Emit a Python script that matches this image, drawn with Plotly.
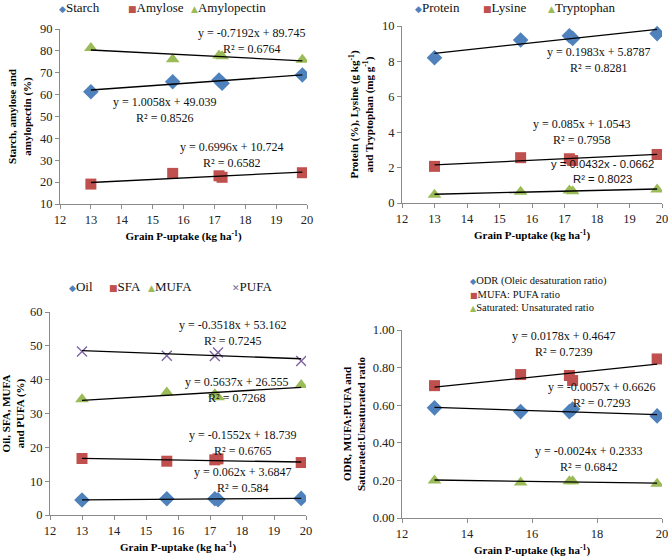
import plotly.graph_objects as go

W, H = 668, 559

# ---------------- data ----------------
x_uptake = [13.0, 15.65, 17.15, 17.25, 19.85]

starch = [61.3, 65.9, 66.7, 65.2, 69.0]
amylose = [19.1, 24.0, 22.9, 22.2, 24.3]
amylopectin = [81.3, 76.2, 77.9, 77.6, 75.9]

protein = [8.21, 9.21, 9.45, 9.30, 9.57]
lysine = [2.07, 2.56, 2.50, 2.40, 2.74]
tryptophan = [0.47, 0.63, 0.70, 0.67, 0.76]

oil = [4.43, 4.80, 4.80, 4.50, 4.90]
sfa = [16.7, 15.9, 16.3, 16.6, 15.5]
mufa = [34.2, 36.2, 35.7, 34.8, 38.4]
pufa = [48.3, 47.1, 47.0, 48.0, 45.5]

odr = [0.586, 0.566, 0.566, 0.580, 0.543]
mufa_pufa = [0.704, 0.763, 0.758, 0.731, 0.846]
sat_unsat = [0.200, 0.189, 0.196, 0.196, 0.182]

# trendline coefficients (slope, intercept) as printed in the chart
slopes = {
    "Starch": 1.0058, "Amylose": 0.6996, "Amylopectin": -0.7192,
    "Protein": 0.1983, "Lysine": 0.085, "Tryptophan": 0.0432,
    "Oil": 0.062, "SFA": -0.1552, "MUFA": 0.5637, "PUFA": -0.3518,
    "ODR": -0.0057, "MUFAPUFA": 0.0178, "SatUnsat": -0.0024,
}
intercepts = {
    "Starch": 49.039, "Amylose": 10.724, "Amylopectin": 89.745,
    "Protein": 5.8787, "Lysine": 1.0543, "Tryptophan": -0.0662,
    "Oil": 3.6847, "SFA": 18.739, "MUFA": 26.555, "PUFA": 53.162,
    "ODR": 0.6626, "MUFAPUFA": 0.4647, "SatUnsat": 0.2333,
}
eq_texts = {
    "Starch": "y = 1.0058x + 49.039<br>R² = 0.8526",
    "Amylose": "y = 0.6996x + 10.724<br>R² = 0.6582",
    "Amylopectin": "y = -0.7192x + 89.745<br>R² = 0.6764",
    "Protein": "y = 0.1983x + 5.8787<br>R² = 0.8281",
    "Lysine": "y = 0.085x + 1.0543<br>R² = 0.7958",
    "Tryptophan": "y = 0.0432x - 0.0662<br>R² = 0.8023",
    "Oil": "y = 0.062x + 3.6847<br>R² = 0.584",
    "SFA": "y = -0.1552x + 18.739<br>R² = 0.6765",
    "MUFA": "y = 0.5637x + 26.555<br>R² = 0.7268",
    "PUFA": "y = -0.3518x + 53.162<br>R² = 0.7245",
    "ODR": "y = -0.0057x + 0.6626<br>R² = 0.7293",
    "MUFAPUFA": "y = 0.0178x + 0.4647<br>R² = 0.7239",
    "SatUnsat": "y = -0.0024x + 0.2333<br>R² = 0.6842",
}

BLUE, RED, GREEN, PURPLE = "#4F81BD", "#C0504D", "#9BBB59", "#8064A2"
SERIF = "Liberation Serif"
GLYPH = {"diamond": "◆", "square": "■", "triangle-up": "▲", "x-thin-open": "✕"}

panels = [
    [("Starch", "Starch", starch, "diamond", BLUE, 12),
     ("Amylose", "Amylose", amylose, "square", RED, 11),
     ("Amylopectin", "Amylopectin", amylopectin, "triangle-up", GREEN, 12)],
    [("Protein", "Protein", protein, "diamond", BLUE, 12),
     ("Lysine", "Lysine", lysine, "square", RED, 11),
     ("Tryptophan", "Tryptophan", tryptophan, "triangle-up", GREEN, 12)],
    [("Oil", "Oil", oil, "diamond", BLUE, 12),
     ("SFA", "SFA", sfa, "square", RED, 11),
     ("MUFA", "MUFA", mufa, "triangle-up", GREEN, 12),
     ("PUFA", "PUFA", pufa, "x-thin-open", PURPLE, 10)],
    [("ODR", "ODR (Oleic desaturation ratio)", odr, "diamond", BLUE, 12),
     ("MUFAPUFA", "MUFA: PUFA ratio", mufa_pufa, "square", RED, 11),
     ("SatUnsat", "Saturated: Unsaturated ratio", sat_unsat, "triangle-up", GREEN, 12)],
]

fig = go.Figure()
xmin, xmax = min(x_uptake), max(x_uptake)

for i, series in enumerate(panels):
    xa = "x" if i == 0 else f"x{i+1}"
    ya = "y" if i == 0 else f"y{i+1}"
    for key, name, vals, sym, col, size in series:
        mk = dict(symbol=sym, color=col, size=size)
        if sym == "x-thin-open":
            mk["line"] = dict(color=col, width=1.4)
        fig.add_trace(go.Scatter(x=x_uptake, y=vals, mode="markers", marker=mk,
                                 xaxis=xa, yaxis=ya, showlegend=False, name=name))
    for key, name, vals, sym, col, size in series:
        xs = [xmin, xmax]
        ys = [slopes[key] * v + intercepts[key] for v in xs]
        fig.add_trace(go.Scatter(x=xs, y=ys, mode="lines", line=dict(color="black", width=1.3),
                                 xaxis=xa, yaxis=ya, showlegend=False, hoverinfo="skip",
                                 name=name + " trend"))


def px(x, y):
    return x / W, 1 - y / H


boxes = [(60, 29, 307, 204), (402, 26, 662, 203), (50, 312, 306, 515), (402, 330, 662, 518)]
yranges = [(10, 90, 10, None), (0, 10, 2, None), (0, 60, 10, None), (0, 1, 0.2, ".2f")]
xdticks = [1, 1, 1, 2]
ytitles = [
    "<b>Starch, amylose and<br>amylopectin (%)</b>",
    "<b>Protein (%), Lysine (g kg<sup>-1</sup>)<br>and Tryptophan (mg g<sup>-1</sup>)</b>",
    "<b>Oil, SFA, MUFA<br>and PUFA (%)</b>",
    "<b>ODR, MUFA:PUFA and<br>Saturated:Unsaturated ratio</b>",
]
ystandoff = [6, 6, 6, 4]

axis_common = dict(showgrid=False, zeroline=False, showline=True, linecolor="#8a8a8a",
                   linewidth=1, ticks="outside", ticklen=4, tickcolor="#8a8a8a",
                   automargin=False, ticklabeloverflow="allow",
                   tickfont=dict(family=SERIF, size=12.5, color="#222"))

lay = {}
for i, (x0, y0, x1, y1) in enumerate(boxes):
    sx = "" if i == 0 else str(i + 1)
    dx = [x0 / W, x1 / W]
    dy = [1 - y1 / H, 1 - y0 / H]
    lo, hi, dt, fmt = yranges[i]
    lay[f"xaxis{sx}"] = dict(axis_common, domain=dx, range=[12, 20], dtick=xdticks[i],
                             anchor=f"y{sx}",
                             title=dict(text="<b>Grain P-uptake (kg ha<sup>-1</sup>)</b>",
                                        font=dict(family=SERIF, size=11, color="black"),
                                        standoff=6))
    yd = dict(axis_common, domain=dy, range=[lo, hi], dtick=dt, anchor=f"x{sx}",
              title=dict(text=ytitles[i], font=dict(family=SERIF, size=11, color="black"),
                         standoff=ystandoff[i]))
    if fmt:
        yd["tickformat"] = fmt
    lay[f"yaxis{sx}"] = yd

annotations = []

# legends (symbol + label), pixel positions of each entry's left edge and centre line
legend_pos = [
    [(57, 8), (126, 8), (189, 8)],
    [(413, 8), (481, 8), (546, 8)],
    [(67, 286), (107, 286), (146, 286), (230, 286)],
    [(468, 281), (468, 294), (468, 307)],
]
legend_fs = [13, 13, 13, 10.5]
for i, series in enumerate(panels):
    for (key, name, vals, sym, col, size), (lx, ly) in zip(series, legend_pos[i]):
        fx, fy = px(lx, ly)
        gsize = 9 if i < 3 else 8
        txt = (f'<span style="color:{col};font-size:{gsize}px;font-family:DejaVu Sans">'
               f'{GLYPH[sym]}</span>{name}')
        annotations.append(dict(text=txt, x=fx, y=fy, xref="paper", yref="paper",
                                showarrow=False, xanchor="left", yanchor="middle",
                                font=dict(family=SERIF, size=legend_fs[i], color="#111")))

# equation label positions (pixel centres)
eq_pos = {
    "Amylopectin": (252, 41), "Starch": (165, 110), "Amylose": (232, 155),
    "Protein": (599, 60), "Lysine": (582, 132), "Tryptophan": (602, 171),
    "PUFA": (233, 333), "MUFA": (237, 390), "SFA": (243, 443), "Oil": (243, 480),
    "MUFAPUFA": (564, 344), "ODR": (602, 395), "SatUnsat": (589, 459),
}
for key, (ax_, ay_) in eq_pos.items():
    fx, fy = px(ax_, ay_)
    fam = "Liberation Sans" if key == "Tryptophan" else SERIF
    fs = 11.3 if key == "Tryptophan" else 12
    annotations.append(dict(text=eq_texts[key], x=fx, y=fy, xref="paper", yref="paper",
                            showarrow=False, xanchor="center", yanchor="middle",
                            font=dict(family=fam, size=fs, color="#111"), align="center"))

fig.update_layout(
    width=W, height=H,
    margin=dict(l=0, r=0, t=0, b=0),
    plot_bgcolor="white", paper_bgcolor="white",
    showlegend=False,
    annotations=annotations,
    **lay,
)

fig.write_html("out.html", config={"displayModeBar": False},
               post_script="document.body.style.margin='0';document.body.style.overflow='hidden';")
